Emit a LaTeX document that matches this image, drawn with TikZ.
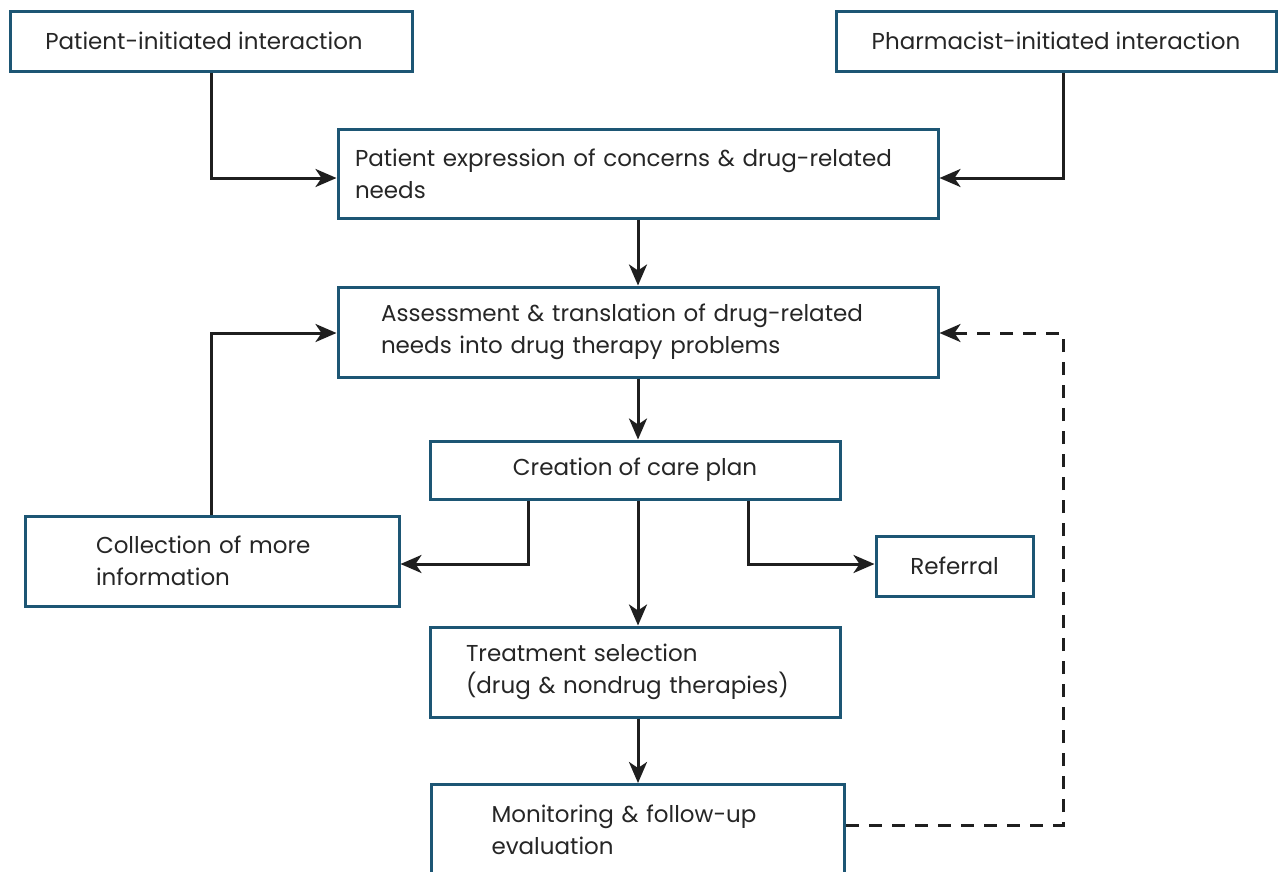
\documentclass[tikz,border=0pt]{standalone}
\usepackage{fontspec}
\setmainfont{Poppins}
\usetikzlibrary{arrows.meta}
\definecolor{boxblue}{HTML}{1D5674}
\definecolor{txt}{HTML}{262626}
\tikzset{
  box/.style={draw=boxblue, line width=3pt, fill=white, text=txt, font=\fontsize{23}{32}\selectfont, inner sep=0pt},
  conn/.style={line width=3pt, draw=black!88, -{Stealth[length=21pt,width=18pt,inset=6pt]}},
  dconn/.style={conn, dash pattern=on 13pt off 10pt},
}
\begin{document}
\begin{tikzpicture}[x=1pt,y=-1pt]
\useasboundingbox (0,0) rectangle (1279,871);
\clip (0,0) rectangle (1279,871);
% nodes
\node[box, minimum width=402, minimum height=60] (pi) at (211,41) {Patient-initiated interaction\hspace*{14pt}};
\node[box, minimum width=440, minimum height=60] (ph) at (1056,41) {Pharmacist-initiated interaction};
\node[box, minimum width=600, minimum height=89, text width=566, align=left] (ex) at (638,173.5) {Patient expression of concerns \& drug-related\\needs};
\node[box, minimum width=600, minimum height=90, text width=514, align=left] (as) at (638,332) {Assessment \& translation of drug-related\\needs into drug therapy problems};
\node[box, minimum width=410, minimum height=58] (cr) at (635,470) {Creation of care plan};
\node[box, minimum width=374, minimum height=90, text width=232, align=left] (co) at (212,561) {Collection of more\\information};
\node[box, minimum width=157, minimum height=60] (re) at (954.5,566) {Referral};
\node[box, minimum width=410, minimum height=90, text width=338, align=left] (tr) at (635,672) {Treatment selection\\(drug \& nondrug therapies)};
\node[box, minimum width=413, minimum height=90, text width=293, align=left, anchor=north west] (mo) at (430,783) {Monitoring \& follow-up\\evaluation};
% connectors
\draw[conn] (pi.south -| 211,0) |- (ex.west |- 0,178);
\draw[conn] (ph.south -| 1063,0) |- (ex.east |- 0,178);
\draw[conn] (ex.south -| 638,0) -- (as.north -| 638,0);
\draw[conn] (as.south -| 638,0) -- (cr.north -| 638,0);
\draw[conn] (co.north -| 211,0) |- (as.west |- 0,333);
\draw[conn] (cr.south -| 528,0) |- (co.east |- 0,564);
\draw[conn] (cr.south -| 638,0) -- (tr.north -| 638,0);
\draw[conn] (cr.south -| 748,0) |- (re.west |- 0,564);
\draw[conn] (tr.south -| 638,0) -- (mo.north -| 638,0);
\draw[dconn] (mo.east |- 0,825) -| (1063,333) -- (as.east |- 0,333);
\end{tikzpicture}
\end{document}
